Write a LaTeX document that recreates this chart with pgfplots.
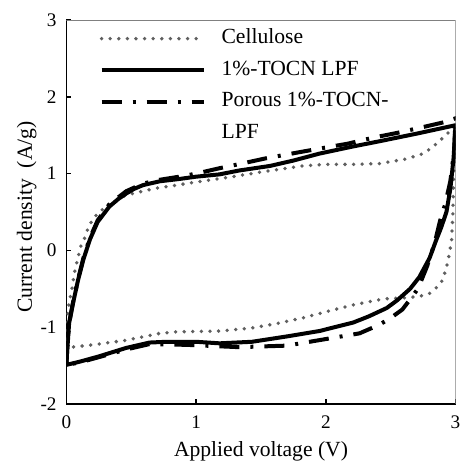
\documentclass[border=0pt]{standalone}
\usepackage{fontspec}
\setmainfont{Liberation Serif}
\usepackage{pgfplots}
\pgfplotsset{compat=1.18}
\definecolor{dotgray}{RGB}{95,95,95}
\begin{document}
\begin{tikzpicture}
\begin{axis}[
  scale only axis,
  width=194.5pt, height=192pt,
  xmin=0, xmax=3, ymin=-2, ymax=3,
  axis lines*=left,
  axis line style={line width=0.9pt, black},
  xtick={0,1,2,3}, ytick={-2,-1,0,1,2,3},
  xticklabels={0,1,2,3},
  yticklabels={-2,-1,0,1,2,3},
  tick align=inside,
  major tick length=2.5pt,
  tick style={line width=0.7pt, black},
  ticklabel style={font=\fontsize{9.6}{11}\selectfont, inner sep=0pt},
  xticklabel style={anchor=north, yshift=-5.5pt},
  yticklabel style={anchor=east, xshift=-4.75pt},
  xlabel={Applied voltage (V)},
  ylabel={Current density\ \ (A/g)},
  label style={font=\fontsize{10.8}{13}\selectfont},
  xlabel style={at={(axis description cs:0.5,0)}, anchor=base, yshift=-26.5pt},
  ylabel style={at={(axis description cs:-0.0887,0.487)}, anchor=base},
  legend style={at={(axis description cs:0.085,0.977)}, anchor=north west, draw=none, fill=none,
    inner sep=0pt, outer sep=0pt,
    font=\fontsize{10.8}{13}\selectfont, row sep=6.0pt,
    nodes={inner sep=0pt, text height=7.3pt, text depth=2.5pt}},
  legend cell align=left,
  legend image code/.code={\draw[#1] (0pt,0pt) -- (51pt,0pt); \path[draw=none,fill=none] (0pt,0pt) -- (60pt,0pt);},
]
\draw[gray, line width=0.6pt] (rel axis cs:0,1) -- (rel axis cs:1,1) -- (rel axis cs:1,0);
% Cellulose (dotted)
\addplot[dotgray, line width=1.9pt, line cap=round, dash pattern=on 0pt off 4.3pt] coordinates {
(0,-1.27) (0.005,-1.0) (0.01,-0.78) (0.04,-0.52) (0.06,-0.3) (0.09,-0.08) (0.11,0.05) (0.14,0.16)
(0.16,0.26) (0.2,0.4) (0.25,0.5) (0.36,0.63) (0.46,0.72) (0.56,0.76) (0.69,0.81) (0.85,0.85)
(1.0,0.89) (1.28,0.96) (1.5,1.02) (1.82,1.1) (2.0,1.12) (2.2,1.12) (2.41,1.13) (2.62,1.19)
(2.75,1.26) (2.82,1.34) (2.88,1.43) (2.93,1.51) (2.99,1.6)
(2.995,1.4) (2.985,0.9) (2.98,0.5) (2.97,0.13) (2.94,-0.16) (2.9,-0.39) (2.85,-0.49) (2.8,-0.56)
(2.72,-0.6) (2.59,-0.62) (2.45,-0.63) (2.21,-0.71) (2.0,-0.8) (1.82,-0.88) (1.6,-0.96) (1.43,-1.01)
(1.18,-1.05) (0.85,-1.06) (0.72,-1.08) (0.46,-1.17) (0.2,-1.23) (0.04,-1.26) (0,-1.27)
};
\addlegendentry{Cellulose}
% 1%-TOCN LPF (solid)
\addplot[black, line width=2pt, line join=round] coordinates {
(0,-1.49) (0.005,-1.3) (0.01,-1.2) (0.02,-0.95) (0.05,-0.69) (0.09,-0.38) (0.13,-0.12) (0.18,0.14)
(0.24,0.37) (0.33,0.57) (0.40,0.67) (0.46,0.74) (0.52,0.80) (0.59,0.85) (0.72,0.90) (0.87,0.93)
(1.0,0.96) (1.18,0.99) (1.33,1.04) (1.57,1.10) (1.75,1.17) (1.95,1.26) (2.2,1.35) (2.41,1.42)
(2.7,1.52) (3.0,1.63)
(2.985,1.2) (2.96,0.8) (2.93,0.5) (2.89,0.3) (2.85,0.13) (2.8,-0.1) (2.72,-0.35) (2.65,-0.5)
(2.55,-0.65) (2.47,-0.75) (2.33,-0.86) (2.21,-0.94) (1.95,-1.05) (1.7,-1.12) (1.43,-1.19)
(1.18,-1.21) (1.0,-1.19) (0.77,-1.19) (0.64,-1.2) (0.46,-1.27) (0.25,-1.38) (0.1,-1.45) (0,-1.49)
};
\addlegendentry{1\%-TOCN LPF}
% Porous 1%-TOCN-LPF (dash-dot)
\addplot[black, line width=2pt, dash pattern=on 10pt off 5.5pt on 1.5pt off 5.5pt] coordinates {
(0,-1.49) (0.005,-1.3) (0.01,-1.2) (0.02,-0.95) (0.05,-0.68) (0.09,-0.37) (0.13,-0.1) (0.18,0.16)
(0.24,0.39) (0.33,0.6) (0.46,0.77) (0.59,0.87) (0.72,0.92) (0.87,0.96) (1.0,1.0) (1.18,1.07)
(1.35,1.13) (1.54,1.2) (1.8,1.28) (2.0,1.34) (2.17,1.39) (2.37,1.47) (2.55,1.53) (2.76,1.61)
(2.94,1.68) (3,1.72)
(2.99,1.3) (2.96,0.9) (2.92,0.6) (2.88,0.38) (2.84,0.1) (2.78,-0.21) (2.71,-0.5) (2.64,-0.66)
(2.59,-0.77) (2.5,-0.88) (2.41,-0.97) (2.26,-1.08) (2.05,-1.14) (1.7,-1.24) (1.33,-1.26)
(0.93,-1.23) (0.64,-1.22) (0.46,-1.29) (0.25,-1.39) (0.1,-1.46) (0,-1.49)
};
\addlegendentry{Porous 1\%-TOCN-}
\addlegendimage{empty legend}
\addlegendentry{LPF}
\coordinate (SW) at (rel axis cs:0,0);
\coordinate (NE) at (rel axis cs:1,1);
\end{axis}
\pgfresetboundingbox
\useasboundingbox ([shift={(-33.25pt,-30pt)}]SW) rectangle ([shift={(2.5pt,10pt)}]NE);
\end{tikzpicture}
\end{document}
